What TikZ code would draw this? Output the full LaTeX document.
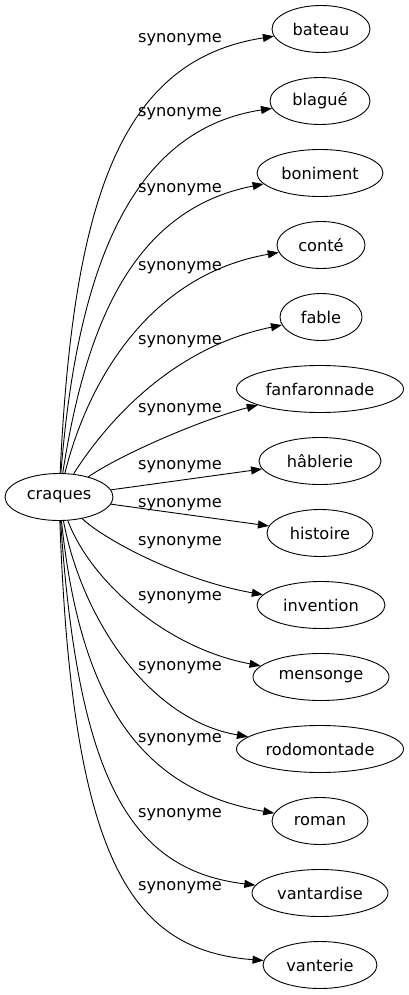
\documentclass[tikz,border=0pt]{standalone}
\usepackage{fontspec}
\setmainfont{DejaVu Sans}
\usetikzlibrary{shapes.geometric,arrows.meta}
\begin{document}
\begin{tikzpicture}[x=1pt,y=-1pt,
  word/.style={ellipse,draw,line width=0.9pt,inner sep=0pt,minimum height=47pt,font=\fontsize{16.2}{19}\selectfont},
  lbl/.style={inner sep=0pt,font=\fontsize{16.2}{19}\selectfont},
  syn/.style={draw,line width=0.9pt,-{Triangle[length=11pt,width=8pt]}}]
\useasboundingbox (0,0) rectangle (409,995);
\node[word,minimum width=108pt] (craques) at (59,497) {craques};
\node[word,minimum width=98pt] (bateau) at (321,29) {bateau};
\node[word,minimum width=100pt] (blague) at (320,101) {blagué};
\node[word,minimum width=126pt] (boniment) at (320,173) {boniment};
\node[word,minimum width=88pt] (conte) at (321,245) {conté};
\node[word,minimum width=82pt] (fable) at (321,317) {fable};
\node[word,minimum width=167pt] (fanfaronnade) at (320,389) {fanfaronnade};
\node[word,minimum width=122pt] (hablerie) at (320,461) {hâblerie};
\node[word,minimum width=106pt] (histoire) at (320,533) {histoire};
\node[word,minimum width=128pt] (invention) at (321,605) {invention};
\node[word,minimum width=136pt] (mensonge) at (321,677) {mensonge};
\node[word,minimum width=167pt] (rodomontade) at (320,749) {rodomontade};
\node[word,minimum width=96pt] (roman) at (320,821) {roman};
\node[word,minimum width=136pt] (vantardise) at (320,893) {vantardise};
\node[word,minimum width=114pt] (vanterie) at (320,965) {vanterie};

\node[lbl] (l1) at (180,40) {synonyme};
\node[lbl] (l2) at (180,114) {synonyme};
\node[lbl] (l3) at (180,190) {synonyme};
\node[lbl] (l4) at (180,268) {synonyme};
\node[lbl] (l5) at (180,342) {synonyme};
\node[lbl] (l6) at (180,410) {synonyme};
\node[lbl] (l7) at (180,467) {synonyme};
\node[lbl] (l8) at (180,505) {synonyme};
\node[lbl] (l9) at (180,543) {synonyme};
\node[lbl] (l10) at (180,598) {synonyme};
\node[lbl] (l11) at (180,668) {synonyme};
\node[lbl] (l12) at (180,740) {synonyme};
\node[lbl] (l13) at (180,815) {synonyme};
\node[lbl] (l14) at (180,888) {synonyme};

\draw[syn] (craques) .. controls (73,200) and (120,60) .. (bateau);
\draw[syn] (craques) .. controls (77,270) and (130,130) .. (blague);
\draw[syn] (craques) .. controls (85,330) and (130,210) .. (boniment);
\draw[syn] (craques) .. controls (88,380) and (150,275) .. (conte);
\draw[syn] (craques) .. controls (95,440) and (160,350) .. (fable);
\draw[syn] (craques) .. controls (120,455) and (200,420) .. (fanfaronnade);
\draw[syn] (craques) -- (hablerie);
\draw[syn] (craques) -- (histoire);
\draw[syn] (craques) .. controls (105,540) and (180,580) .. (invention);
\draw[syn] (craques) .. controls (90,580) and (165,648) .. (mensonge);
\draw[syn] (craques) .. controls (82,620) and (150,720) .. (rodomontade);
\draw[syn] (craques) .. controls (80,700) and (140,790) .. (roman);
\draw[syn] (craques) .. controls (78,780) and (130,870) .. (vantardise);
\draw[syn] (craques) .. controls (72,860) and (130,950) .. (vanterie);
\end{tikzpicture}
\end{document}
